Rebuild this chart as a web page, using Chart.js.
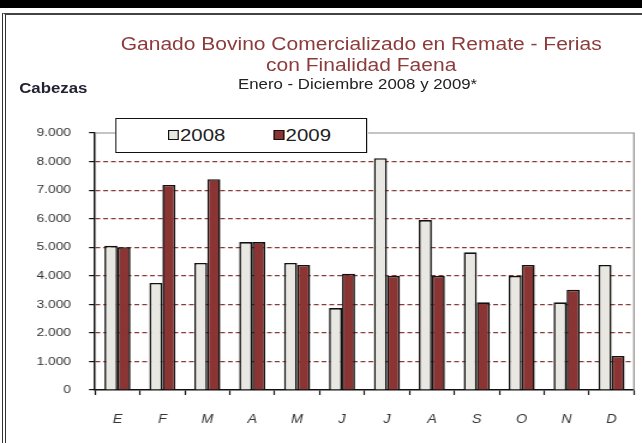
<!DOCTYPE html>
<html>
<head>
<meta charset="utf-8">
<script src="https://cdn.jsdelivr.net/npm/chart.js@4/dist/chart.umd.min.js"></script>
<style>
  body { margin:0; background:#fff; }
  #pagina { position:relative; width:642px; height:443px; overflow:hidden; background:#fff; font-family:"Liberation Sans", Arial, sans-serif; }
  #banda { position:absolute; left:0; top:0; width:642px; height:8px; background:#000; }
  #marco { position:absolute; left:2px; top:13px; width:700px; height:500px; border-left:4px double #333; border-top:2px solid #444; }
  /* el original viene estirado a lo ancho, se dibuja a 535px y se escala */
  #lienzo { position:absolute; left:0; top:0; width:535px; height:443px; transform:scaleX(1.2); transform-origin:0 0; }
  .titulo { position:absolute; left:0; width:602px; text-align:center; color:#8c3b3b; font-size:17.5px; white-space:nowrap; }
  #subtitulo { position:absolute; left:0; top:76px; width:596px; text-align:center; color:#222; font-size:14px; white-space:nowrap; }
  #cabezas { position:absolute; left:16px; top:80px; font-size:14px; font-weight:bold; color:#223; }
  #leyenda { position:absolute; left:96px; top:118px; width:208px; height:33px; border:1.5px solid #111; background:#fff; }
  .item { position:absolute; top:7px; font-size:17px; color:#222; line-height:20px; }
  .marca { display:inline-block; width:7px; height:8px; border:1.3px solid #111; margin-right:1px; vertical-align:1px; }
</style>
</head>
<body>
<div id="pagina">
  <div id="banda"></div>
  <div id="marco"></div>
  <div id="lienzo">
    <canvas id="grafica"></canvas>
    <div class="titulo" style="top:34px">Ganado Bovino Comercializado en Remate - Ferias</div>
    <div class="titulo" style="top:55px">con Finalidad Faena</div>
    <div id="subtitulo">Enero - Diciembre 2008 y 2009*</div>
    <div id="cabezas">Cabezas</div>
    <div id="leyenda"></div>
  </div>
</div>
<script>
// =========================
// DATOS
// =========================
const meses=['E','F','M','A','M','J','J','A','S','O','N','D'];
const series=['2008','2009'];
const v2008=[5050,3750,4450,5180,4450,2870,8120,5950,4820,4000,3070,4380];
const v2009=[5000,7180,7380,5180,4380,4070,4000,4000,3070,4380,3510,1190];
const colores=['#e9e7e2','#8b3434'];
const posLeyenda=[43,131];

// =========================
// UTILIDADES
// =========================
function formatoMiles(v){
  return String(v).replace(/\B(?=(\d{3})+(?!\d))/g,'.');
}

// leyenda en html, encima del borde del area
const ley=document.getElementById('leyenda');
ley.innerHTML=series.map((s,i)=>
  `<div class="item" style="left:${posLeyenda[i]}px"><span class="marca" style="background:${colores[i]}"></span>${s}</div>`
).join('');

// borde gris arriba y a la derecha del area de trazado
const bordeArea={
  id:'bordeArea',
  beforeDatasetsDraw(chart){
    const {ctx,chartArea:a}=chart;
    ctx.save();
    ctx.strokeStyle='#8a8a8a';
    ctx.lineWidth=1.2;
    ctx.beginPath();
    ctx.moveTo(a.left,a.top);
    ctx.lineTo(a.right,a.top);
    ctx.lineTo(a.right,a.bottom);
    ctx.stroke();
    ctx.restore();
  }
};

// =========================
// GRAFICA
// =========================
new Chart(document.getElementById('grafica'),{
  type:'bar',
  data:{
    labels:meses,
    datasets:[
      {label:series[0],data:v2008,backgroundColor:colores[0],borderColor:'#111',borderWidth:1.6},
      {label:series[1],data:v2009,backgroundColor:colores[1],borderColor:'#111',borderWidth:1.6}
    ]
  },
  options:{
    responsive:true,
    maintainAspectRatio:false,
    animation:false,
    datasets:{bar:{barPercentage:1,categoryPercentage:0.58}},
    layout:{padding:{left:0,right:6.7,top:133,bottom:0}},
    plugins:{legend:{display:false},tooltip:{enabled:false},title:{display:false}},
    scales:{
      x:{
        grid:{drawOnChartArea:false,drawTicks:true,tickLength:5,tickColor:'#111',tickWidth:1.2},
        border:{color:'#111',width:1.5},
        ticks:{padding:17,color:'#333',font:{family:'Liberation Sans',size:12,style:'italic'}},
        afterFit(s){ s.height=53; }
      },
      y:{
        min:0,max:9000,
        grid:{
          color:c=>(c.tick&&(c.tick.value===0||c.tick.value===9000))?'rgba(0,0,0,0)':'#8b3a3a',
          lineWidth:1.2,tickLength:5,tickColor:'#111',tickWidth:1.2
        },
        border:{color:'#111',width:1.5,dash:[4,2.5]},
        ticks:{stepSize:1000,padding:15,color:'#333',font:{family:'Liberation Sans',size:11.5},callback:v=>formatoMiles(v)},
        afterFit(s){ s.width=79.2; }
      }
    }
  },
  plugins:[bordeArea]
});
</script>
</body>
</html>
